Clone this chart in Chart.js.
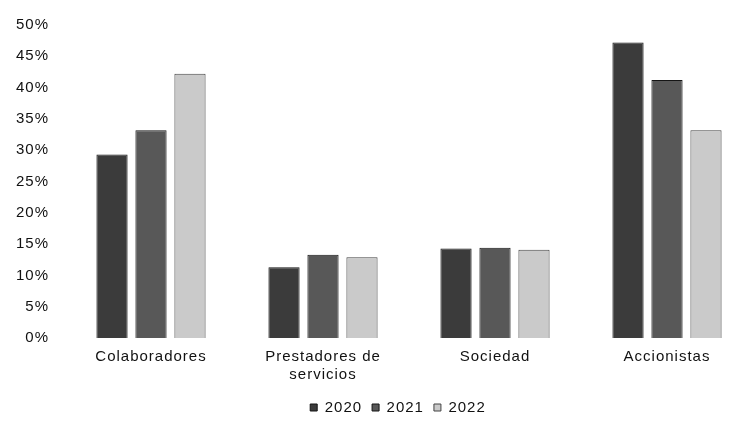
<!DOCTYPE html>
<html>
<head>
<meta charset="utf-8">
<script src="https://cdn.jsdelivr.net/npm/chart.js@4"></script>
<style>
  html, body { margin: 0; padding: 0; background: #fff; overflow: hidden; }
  #wrap { width: 800px; height: 425px; }
</style>
</head>
<body>
<div id="wrap"><canvas id="chart"></canvas></div>
<script>
// categories and values (percent)
const categories = ['Colaboradores', ['Prestadores de', 'servicios'], 'Sociedad', 'Accionistas'];
const years = ['2020', '2021', '2022'];
const values2020 = [29.3, 11.3, 14.3, 47.2];
const values2021 = [33.2, 13.3, 14.4, 41.2];
const values2022 = [42.2, 12.9, 14.1, 33.2];
const yTicks = [0, 5, 10, 15, 20, 25, 30, 35, 40, 45, 50];

const fills = ['#3b3b3b', '#585858', '#cacaca'];
const borders = ['#151515', '#151515', '#444444'];
const font = { family: '"Liberation Sans", Arial, sans-serif', size: 15 };

// the scanned original has wide letter spacing; canvas resets state on resize
const spacing = {
    id: 'spacing',
    beforeUpdate: function(chart) { chart.ctx.letterSpacing = '1px'; },
    beforeDraw: function(chart) { chart.ctx.letterSpacing = '1px'; }
};

document.addEventListener('DOMContentLoaded', function() {
    const ctx = document.getElementById('chart').getContext('2d');
    const series = [values2020, values2021, values2022];

    new Chart(ctx, {
        type: 'bar',
        plugins: [spacing],
        data: {
            labels: categories,
            datasets: series.map(function(vals, i) {
                return {
                    label: years[i],
                    data: vals,
                    backgroundColor: fills[i],
                    borderColor: borders[i],
                    borderWidth: 1,
                    barPercentage: 0.8,
                    categoryPercentage: 0.68
                };
            })
        },
        options: {
            responsive: true,
            maintainAspectRatio: false,
            animation: false,
            layout: { padding: { top: -8, right: 4, left: 0, bottom: 0 } },
            plugins: {
                legend: {
                    position: 'bottom',
                    labels: {
                        boxWidth: 7,
                        boxHeight: 7,
                        padding: 10,
                        color: '#111',
                        font: font
                    }
                },
                tooltip: { enabled: false }
            },
            scales: {
                y: {
                    min: 0,
                    max: 50,
                    afterBuildTicks: function(scale) {
                        scale.ticks = yTicks.map(function(v) { return { value: v }; });
                    },
                    afterFit: function(scale) { scale.width = 65; },
                    grid: { display: false, drawTicks: false },
                    border: { display: false },
                    ticks: {
                        color: '#111',
                        font: font,
                        padding: 16,
                        callback: function(v) { return v + '%'; }
                    }
                },
                // empty right-hand box so the plot runs past the window edge
                // while the legend stays centred where the original has it
                yRight: {
                    position: 'right',
                    min: 0,
                    max: 50,
                    afterFit: function(scale) { scale.width = 43; },
                    grid: { display: false, drawTicks: false },
                    border: { display: false },
                    ticks: { display: false }
                },
                x: {
                    grid: { display: false, drawTicks: false },
                    border: { display: false },
                    afterFit: function(scale) { scale.height = 52; },
                    ticks: {
                        color: '#111',
                        font: font,
                        padding: 10,
                        maxRotation: 0
                    }
                }
            }
        }
    });
});
</script>
</body>
</html>
